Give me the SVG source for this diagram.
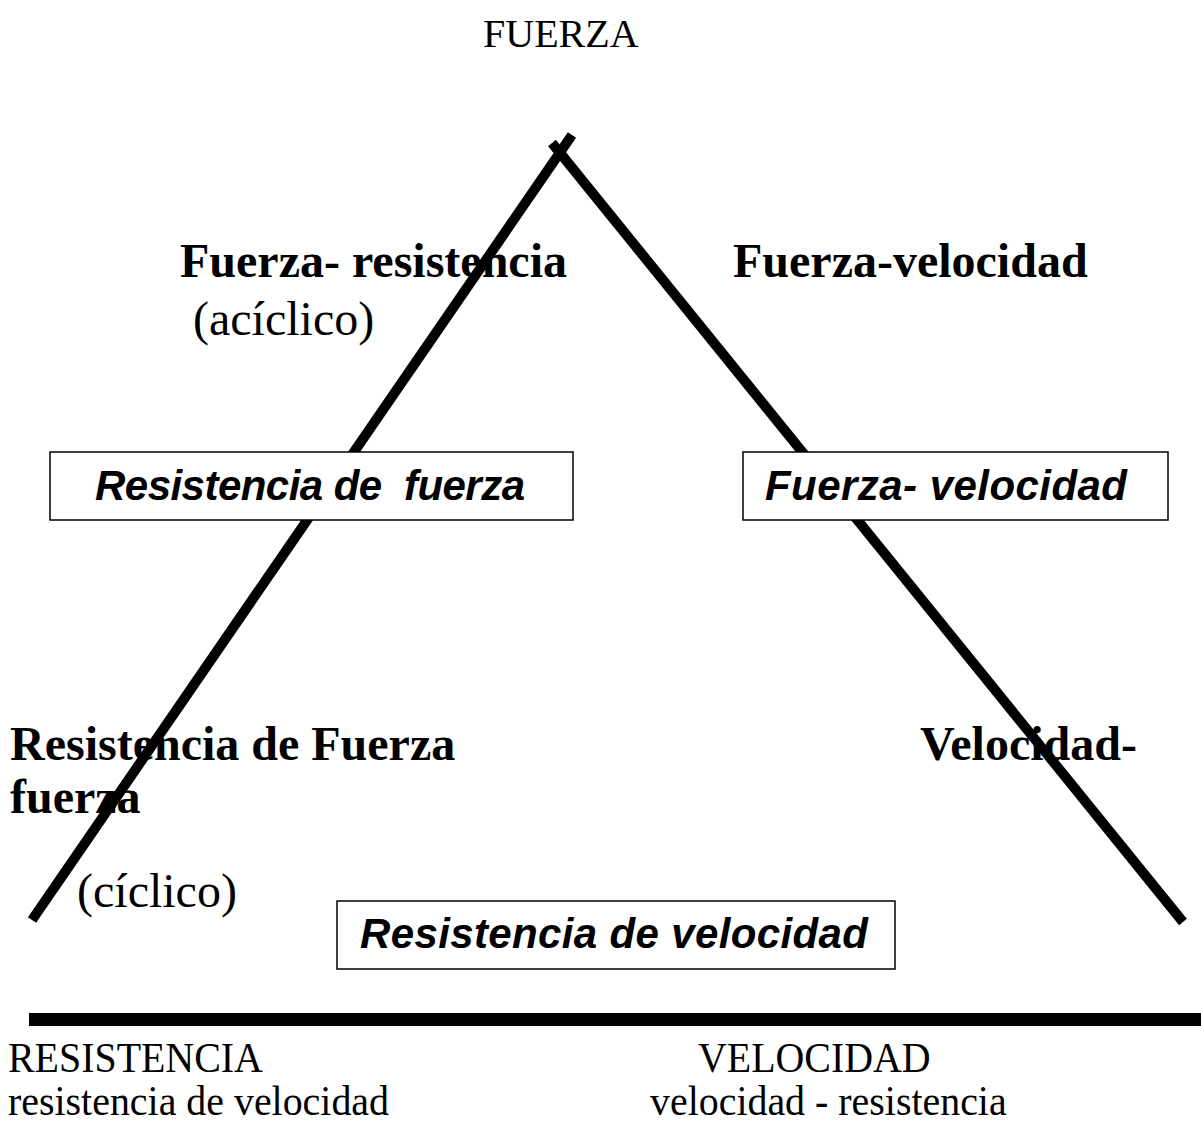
<svg xmlns="http://www.w3.org/2000/svg" width="1201" height="1124" viewBox="0 0 1201 1124">
<style>
.serif{font-family:"Liberation Serif","Times New Roman",serif;fill:#000}
.b{font-weight:bold;font-size:48px}
.r{font-size:48px}
.lbl{font-size:40px}
.cond{font-size:42px}
.box{fill:#fff;stroke:#000;stroke-width:1.5}
.bt{font-family:"Liberation Sans",Arial,sans-serif;font-weight:bold;font-style:italic;font-size:42px;fill:#000}
.edge{stroke:#000;stroke-width:10;fill:none}
</style>
<rect width="1201" height="1124" fill="#fff"/>
<g id="labels">
<text class="serif lbl" x="483" y="47">FUERZA</text>
<text class="serif b" x="180" y="277">Fuerza- resistencia</text>
<text class="serif r" x="193" y="335">(acíclico)</text>
<text class="serif b" x="733" y="277">Fuerza-velocidad</text>
<text class="serif b" x="10" y="760">Resistencia de Fuerza</text>
<text class="serif b" x="10" y="813">fuerza</text>
<text class="serif r" x="77" y="907">(cíclico)</text>
<text class="serif b" x="920" y="760">Velocidad-</text>
<text class="serif cond" transform="translate(8,1072) scale(0.95,1)">RESISTENCIA</text>
<text class="serif cond" transform="translate(698,1072) scale(0.95,1)">VELOCIDAD</text>
<text class="serif cond" transform="translate(8,1115) scale(0.95,1)">resistencia de velocidad</text>
<text class="serif cond" transform="translate(650,1115) scale(0.95,1)">velocidad - resistencia</text>
</g>
<g id="connectors">
<line class="edge" x1="572" y1="135" x2="32" y2="920"/>
<line class="edge" x1="552" y1="143" x2="1183" y2="922"/>
<rect x="29" y="1013" width="1172" height="13" fill="#000"/>
</g>
<g id="node-resistencia-fuerza">
<rect class="box" x="50" y="452" width="523" height="68"/>
<text class="bt" x="95" y="500" xml:space="preserve" textLength="430">Resistencia de  fuerza</text>
</g>
<g id="node-fuerza-velocidad">
<rect class="box" x="743" y="452" width="425" height="68"/>
<text class="bt" x="765" y="500" textLength="362">Fuerza- velocidad</text>
</g>
<g id="node-resistencia-velocidad">
<rect class="box" x="337" y="901" width="558" height="68"/>
<text class="bt" x="360" y="948" textLength="508">Resistencia de velocidad</text>
</g>
</svg>
